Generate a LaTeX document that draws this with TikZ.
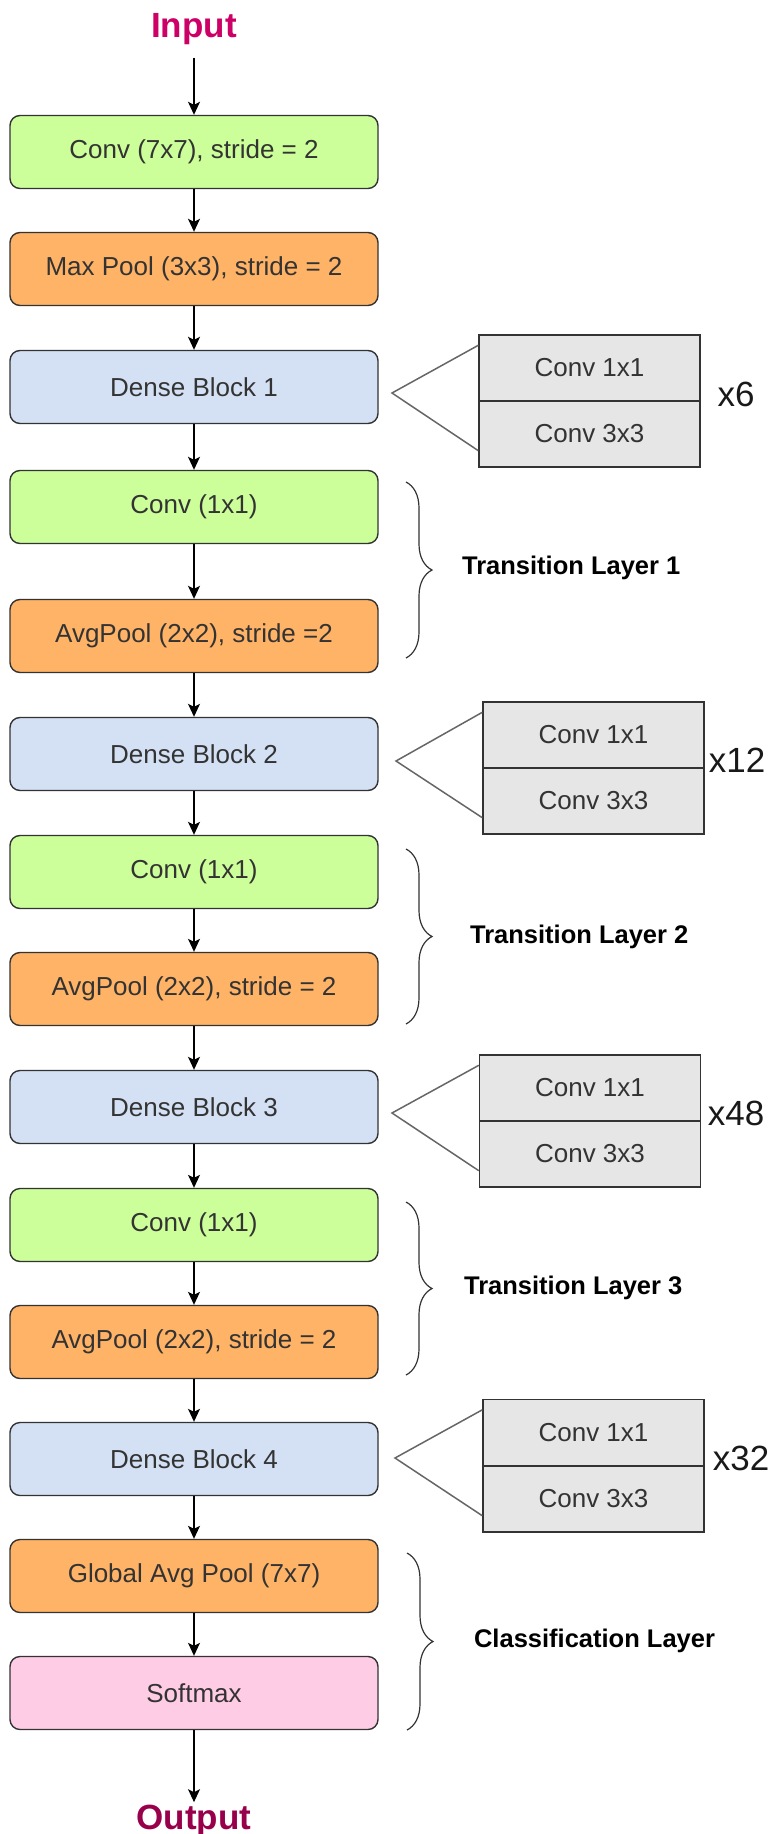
\documentclass[tikz,border=0pt]{standalone}
\usepackage{fontspec}
\setmainfont{Liberation Sans}
\usepackage{tikz}
\usetikzlibrary{arrows.meta}
\usetikzlibrary{decorations.pathreplacing}
\usepackage{xcolor}
\definecolor{convgreen}{HTML}{CCFF99}
\definecolor{poolorange}{HTML}{FFB366}
\definecolor{denseblue}{HTML}{D4E1F5}
\definecolor{softpink}{HTML}{FFCCE6}
\definecolor{subgray}{HTML}{E6E6E6}
\definecolor{edgegray}{HTML}{333333}
\definecolor{fangray}{HTML}{666666}
\definecolor{inmagenta}{HTML}{CC0066}
\definecolor{outmaroon}{HTML}{99004C}

\begin{document}
\begin{tikzpicture}[x=0.5pt,y=-0.5pt,
  layer/.style={draw=edgegray,line width=0.7pt,rounded corners=5pt,minimum width=184pt,minimum height=36.5pt,inner sep=0pt,text=edgegray,font=\fontsize{13}{15}\selectfont},
  subbox/.style={draw=edgegray,line width=0.7pt,fill=subgray,minimum width=110.5pt,minimum height=33pt,inner sep=0pt,text=edgegray,font=\fontsize{13}{15}\selectfont},
  arr/.style={-{Stealth[length=6.5pt,width=6pt,inset=1.5pt]},line width=0.65pt},
  fan/.style={fangray,line width=0.75pt},
  brc/.style={edgegray,line width=0.6pt,decorate,decoration={brace,amplitude=13pt}},
  lbl/.style={anchor=west,font=\fontsize{12.75}{15}\selectfont\bfseries},
  rep/.style={text=black!90,font=\fontsize{17.5}{20}\selectfont},
  io/.style={anchor=base,inner sep=1pt,font=\fontsize{17.5}{20}\selectfont\bfseries}]
\useasboundingbox (0,0) rectangle (775,1834);
% main column
\node[io,text=inmagenta] (in) at (194,38) {Input};
\node[layer,fill=convgreen] (c7) at (194,152) {Conv (7x7), stride = 2};
\node[layer,fill=poolorange] (mp) at (194,269) {Max Pool (3x3), stride = 2};
\node[layer,fill=denseblue] (db1) at (194,387) {Dense Block 1};
\node[layer,fill=convgreen] (tc1) at (194,507) {Conv (1x1)};
\node[layer,fill=poolorange] (ap1) at (194,636) {AvgPool (2x2), stride =2};
\node[layer,fill=denseblue] (db2) at (194,754) {Dense Block 2};
\node[layer,fill=convgreen] (tc2) at (194,872) {Conv (1x1)};
\node[layer,fill=poolorange] (ap2) at (194,989) {AvgPool (2x2), stride = 2};
\node[layer,fill=denseblue] (db3) at (194,1107) {Dense Block 3};
\node[layer,fill=convgreen] (tc3) at (194,1225) {Conv (1x1)};
\node[layer,fill=poolorange] (ap3) at (194,1342) {AvgPool (2x2), stride = 2};
\node[layer,fill=denseblue] (db4) at (194,1459) {Dense Block 4};
\node[layer,fill=poolorange] (gap) at (194,1576) {Global Avg Pool (7x7)};
\node[layer,fill=softpink] (sm) at (194,1693) {Softmax};
\node[io,text=outmaroon] (out) at (194,1829) {Output};
\draw[arr,shorten <=5pt] (in) -- (c7);
\draw[arr] (c7) -- (mp);
\draw[arr] (mp) -- (db1);
\draw[arr] (db1) -- (tc1);
\draw[arr] (tc1) -- (ap1);
\draw[arr] (ap1) -- (db2);
\draw[arr] (db2) -- (tc2);
\draw[arr] (tc2) -- (ap2);
\draw[arr] (ap2) -- (db3);
\draw[arr] (db3) -- (tc3);
\draw[arr] (tc3) -- (ap3);
\draw[arr] (ap3) -- (db4);
\draw[arr] (db4) -- (gap);
\draw[arr] (gap) -- (sm);
\draw[arr] (sm) -- (out);
% dense block contents
\node[subbox] (s1a) at (589.5,368) {Conv 1x1};
\node[subbox] (s1b) at (589.5,434) {Conv 3x3};
\node[rep] (r1) at (736,394) {x6};
\coordinate (t1) at (392,393);
\draw[fan] ([yshift=-5.5pt]s1a.north west) -- (t1) -- ([yshift=8.5pt]s1b.south west);
\node[subbox] (s2a) at (593.5,735) {Conv 1x1};
\node[subbox] (s2b) at (593.5,801) {Conv 3x3};
\node[rep] (r2) at (737,760) {x12};
\coordinate (t2) at (396,761);
\draw[fan] ([yshift=-5.5pt]s2a.north west) -- (t2) -- ([yshift=8.5pt]s2b.south west);
\node[subbox] (s3a) at (590,1088) {Conv 1x1};
\node[subbox] (s3b) at (590,1154) {Conv 3x3};
\node[rep] (r3) at (736,1113) {x48};
\coordinate (t3) at (392,1113);
\draw[fan] ([yshift=-5.5pt]s3a.north west) -- (t3) -- ([yshift=8.5pt]s3b.south west);
\node[subbox] (s4a) at (593.5,1432.5) {Conv 1x1};
\node[subbox] (s4b) at (593.5,1499) {Conv 3x3};
\node[rep] (r4) at (741,1458) {x32};
\coordinate (t4) at (395,1458);
\draw[fan] ([yshift=-5.5pt]s4a.north west) -- (t4) -- ([yshift=8.5pt]s4b.south west);
% braces
\draw[brc] (406,482) -- (406,658);
\node[lbl] (tl1) at (455,568) {Transition Layer 1};
\draw[brc] (406,849) -- (406,1024);
\node[lbl] (tl2) at (463,937) {Transition Layer 2};
\draw[brc] (406,1202) -- (406,1375);
\node[lbl] (tl3) at (457,1288) {Transition Layer 3};
\draw[brc] (407,1553) -- (407,1730);
\node[lbl] (cl) at (467,1641) {Classification Layer};
\end{tikzpicture}
\end{document}
